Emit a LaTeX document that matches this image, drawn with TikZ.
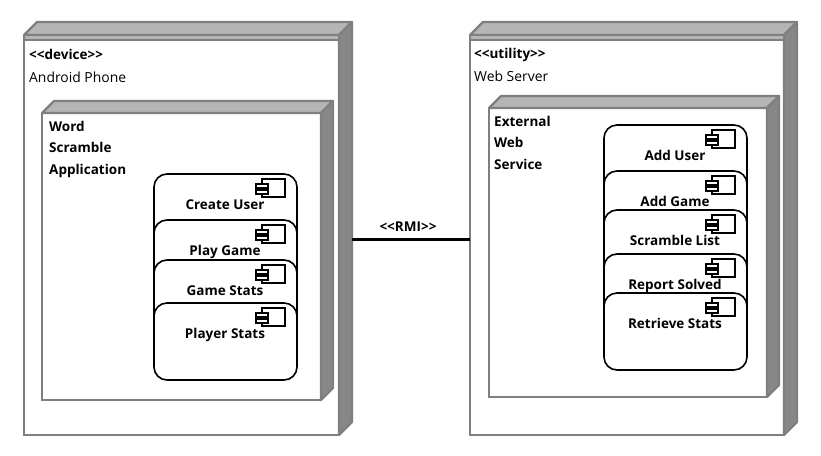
\documentclass[tikz,border=0pt]{standalone}
\usepackage{fontspec}
\setmainfont{Open Sans}
\tikzset{
  nodeface/.style={draw=boxgray, fill=white, line width=2.2pt, rectangle, anchor=north west, outer sep=0pt, inner sep=0pt},
  nodetop/.style={draw=boxgray, fill=toplight, line width=2.2pt, line join=round},
  nodeside/.style={draw=boxgray, fill=sidedark, line width=2.2pt, line join=round},
  compbox/.style={draw=black, fill=white, line width=1.6pt, rectangle, rounded corners=13pt, anchor=north west, minimum width=143pt, minimum height=77pt, outer sep=0pt},
  compicon/.style={draw=black, fill=white, line width=1.4pt},
  stereo/.style={anchor=base west, inner sep=0pt, font=\fontsize{13.5}{15}\selectfont\bfseries},
  plain/.style={anchor=base west, inner sep=0pt, font=\fontsize{13.9}{15}\selectfont},
  complabel/.style={anchor=base, inner sep=0pt, font=\fontsize{13.5}{15}\selectfont\bfseries},
  rmiline/.style={draw=black, line width=3pt}
}
\definecolor{boxgray}{HTML}{7F7F7F}
\definecolor{toplight}{HTML}{B5B5B5}
\definecolor{sidedark}{HTML}{878787}
\begin{document}
\begin{tikzpicture}[x=1pt, y=-1pt]
  \useasboundingbox (0,0) rectangle (821,455);
  % device and utility boxes, with the nested boxes
  \foreach \name/\xa/\ya/\boxw/\boxh/\depth in {phone/24/35/315/400/13, server/470/35/314/400/13,
                                          app/42/113/279/287/12, service/489/108/278/289/12}{
    \node[nodeface, minimum width=\boxw pt, minimum height=\boxh pt] (\name) at (\xa,\ya) {};
    \draw[nodetop] (\name.north west) -- ++(\depth,-\depth) -- ([xshift=\depth pt, yshift=\depth pt]\name.north east) -- (\name.north east) -- cycle;
    \draw[nodeside] (\name.north east) -- ++(\depth,-\depth) -- ([xshift=\depth pt, yshift=\depth pt]\name.south east) -- (\name.south east) -- cycle;
  }
  % band under the roof of the two outer boxes
  \filldraw[nodetop] (phone.north west) rectangle ([yshift=-5pt]phone.north east);
  \filldraw[nodetop] (server.north west) rectangle ([yshift=-5pt]server.north east);

  \node[stereo] (phonetype) at (29,59.5) {<{}<device>{}>};
  \node[plain] (phonename) at (29,82) {Android Phone};
  \node[stereo] (servertype) at (474,58.5) {<{}<utility>{}>};
  \node[plain] (servername) at (474,81) {Web Server};

  \node[stereo] (appa) at (49,131) {Word};
  \node[stereo] (appb) at (49,152) {Scramble};
  \node[stereo] (appc) at (49,174) {Application};
  \node[stereo] (servicea) at (494,126) {External};
  \node[stereo] (serviceb) at (494,147) {Web};
  \node[stereo] (servicec) at (494,169) {Service};

  % component boxes, each one covers the bottom of the one before
  \foreach \name/\xa/\ya/\txt in {createuser/154/174/Create User, playgame/154/220/Play Game,
                                  gamestats/154/260/Game Stats, playerstats/154/303/Player Stats,
                                  adduser/604/125/Add User, addgame/604/171/Add Game,
                                  scramblelist/604/210/Scramble List, reportsolved/604/254/Report Solved,
                                  retrievestats/604/293/Retrieve Stats}{
    \node[compbox] (\name) at (\xa,\ya) {};
    \node[complabel] (\name txt) at ([xshift=-0.5pt, yshift=-35pt]\name.north) {\txt};
    \draw[compicon] ([xshift=-35pt, yshift=-5pt]\name.north east) rectangle ([xshift=-12pt, yshift=-23pt]\name.north east);
    \draw[compicon] ([xshift=-41pt, yshift=-10pt]\name.north east) rectangle ([xshift=-29pt, yshift=-14pt]\name.north east);
    \draw[compicon] ([xshift=-41pt, yshift=-16pt]\name.north east) rectangle ([xshift=-29pt, yshift=-20pt]\name.north east);
  }

  \coordinate (phoneport) at (352,239);
  \draw[rmiline] (phoneport) -- (phoneport -| server.west);
  \node[complabel] (rmi) at (408,231.5) {<{}<RMI>{}>};
\end{tikzpicture}
\end{document}
